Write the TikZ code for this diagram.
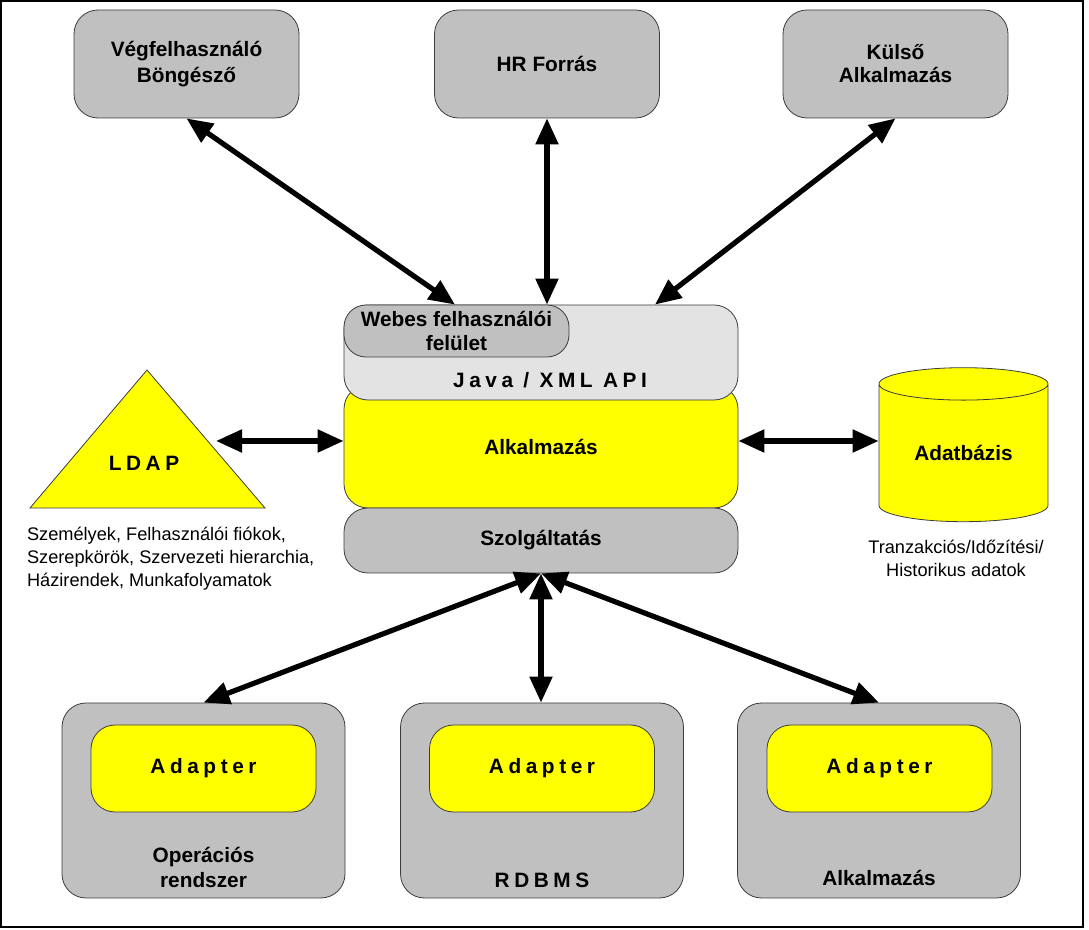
\documentclass[tikz,border=0pt]{standalone}
\usepackage{fontspec}
\setmainfont{Liberation Sans}
\usetikzlibrary{arrows.meta,shapes.geometric}
\definecolor{boxgray}{RGB}{192,192,192}
\definecolor{apigray}{RGB}{227,227,227}
\definecolor{edgegray}{RGB}{60,60,60}
\definecolor{boxyellow}{RGB}{255,255,0}
\newcommand{\spaced}[1]{{\addfontfeature{LetterSpace=22}#1}}
\newcommand{\lbl}[1]{\bfseries\fontsize{10.4}{#1}\selectfont}
\newcommand{\note}{\fontsize{9.1}{11.5}\selectfont}

\begin{document}
\begin{tikzpicture}[x=0.5pt,y=-0.5pt]

%
% Styles
%
\tikzstyle{box} = [rectangle,rounded corners=12pt,draw=edgegray,fill=boxgray,inner sep=0pt,align=center,font=\lbl{13pt}]
\tikzstyle{topbox} = [box,minimum width=112.5pt,minimum height=54pt]
\tikzstyle{layer} = [box,minimum width=197pt]
\tikzstyle{outerbox} = [box,minimum width=141.5pt,minimum height=97.5pt]
\tikzstyle{adapterbox} = [box,fill=boxyellow,minimum width=112.5pt,minimum height=43.5pt]
\tikzstyle{arr} = [line width=2.6pt,>={Triangle[length=13pt,width=11pt]},<->]

\useasboundingbox (0,0) rectangle (1089,930);
\draw[line width=1pt] (1,1) rectangle (1083,927);

% top row
\node[topbox] (browser) at (186.5,64) {Végfelhasználó\\Böngésző};
\node[topbox] (hr)      at (547,64)   {HR Forrás};
\node[topbox,font=\lbl{11.5pt}] (ext) at (895.5,64) {Külső\\Alkalmazás};

% middle stack
\node[layer,fill=boxyellow,minimum height=61.5pt] (app) at (541,446.5) {Alkalmazás};
\node[layer,fill=apigray,minimum height=47.5pt] (api) at (541,352.5) {};
\node[box,rounded corners=11pt,minimum width=112.5pt,minimum height=26pt,font=\lbl{12pt}] (web) at (456.5,331) {Webes felhasználói\\felület};
\node[font=\lbl{12pt}] (apilabel) at (550,380) {\spaced{Java / XML API}};
\node[layer,minimum height=32.5pt] (svc) at (541,540.5) {Szolgáltatás};

% LDAP
\coordinate (ldaptop) at (147,370);
\coordinate (ldapr) at (216,441);
\draw[draw=edgegray,fill=boxyellow] (ldaptop) -- (265,508) -- (30,508) -- cycle;
\node[font=\lbl{12pt}] (ldap) at (144,463) {\spaced{LDAP}};
\node[anchor=west,align=left,font=\note] (ldapnote) at (20,559)
  {Személyek, Felhasználói fiókok,\\Szerepkörök, Szervezeti hierarchia,\\Házirendek, Munkafolyamatok};

% database
\node[cylinder,shape border rotate=90,aspect=0.33,draw=edgegray,fill=boxyellow,
  minimum width=84.5pt,minimum height=77pt,inner sep=0pt,font=\lbl{12pt}] (db) at (963.5,453) {Adatbázis};
\node[align=center,font=\note] (dbnote) at (956,558) {Tranzakciós/Időzítési/\\Historikus adatok};

% bottom row
\node[outerbox] (os)     at (203.5,800.5) {};
\node[outerbox] (rdbms)  at (542,800.5)   {};
\node[outerbox] (extapp) at (879,800.5)   {};
\node[adapterbox] (osad)     at (203.5,768.5) {\spaced{Adapter}};
\node[adapterbox] (rdbmsad)  at (542,768.5)   {\spaced{Adapter}};
\node[adapterbox] (extappad) at (879.5,768.5) {\spaced{Adapter}};
\node[font=\lbl{12.5pt},align=center] (oslabel) at (203.5,867.5) {Operációs\\rendszer};
\node[font=\lbl{12pt}] (rdbmslabel) at (542,880) {\spaced{RDBMS}};
\node[font=\lbl{12pt}] (extapplabel) at (879,878) {Alkalmazás};

% connectors
\draw[arr] (browser.south) -- ([xshift=-43pt]api.north);
\draw[arr] (hr.south) -- (hr.south |- api.north);
\draw[arr] (ext.south) -- ([xshift=57pt]api.north);
\draw[arr] (ldapr) -- (ldapr -| app.west);
\draw[arr] (app.east |- ldapr) -- (ldapr -| db.west);
\draw[arr] (svc.south) -- (os.north);
\draw[arr] (svc.south) -- (svc.south |- rdbms.north);
\draw[arr] (svc.south) -- (extapp.north);

\end{tikzpicture}
\end{document}
